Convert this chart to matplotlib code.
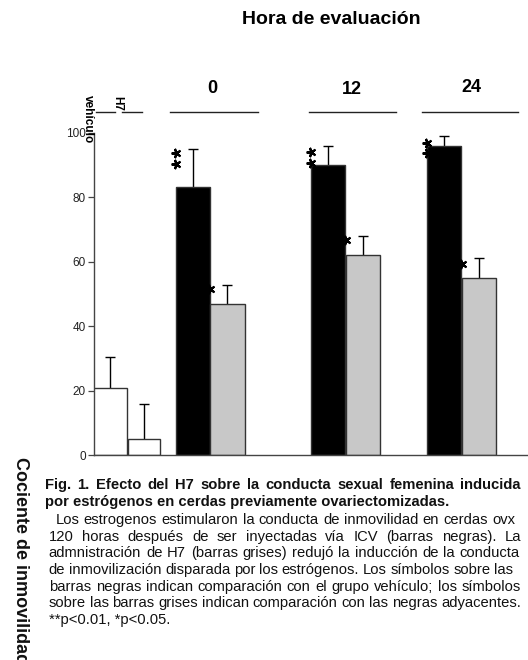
import matplotlib
matplotlib.use("Agg")
import matplotlib.pyplot as plt
from matplotlib.lines import Line2D
import numpy as np

plt.rcParams['font.family'] = ['Liberation Sans', 'DejaVu Sans']

# ---------------- data ----------------
bar_names = ['vehículo', 'H7', '0 E', '0 H7', '12 E', '12 H7', '24 E', '24 H7']
bar_pos = [0.49, 1.47, 2.88, 3.88, 6.80, 7.81, 10.16, 11.17]
bar_width = [0.99, 0.93, 1.0, 1.0, 1.0, 1.0, 1.0, 1.0]
values = [20.8, 4.9, 83.1, 47.0, 90.0, 61.9, 96.0, 55.0]
errors = [9.7, 10.8, 11.7, 5.9, 6.0, 6.0, 2.9, 6.0]
bar_colors = ['white', 'white', 'black', '#c8c8c8', 'black', '#c8c8c8', 'black', '#c8c8c8']
yticks = [0, 20, 40, 60, 80, 100]

# significance marks: (bar index, y of marks)
star_bars = [2, 4, 6, 3, 5, 7]
star_y = [[93.8, 90.4], [94.1, 90.7], [96.9, 93.8], [51.4], [66.6], [59.4]]

hours = ['0', '12', '24']
title = 'Hora de evaluación'
ylabel = 'Cociente de inmovilidad'

caption_bold = ["Fig. 1. Efecto del H7 sobre la conducta sexual femenina inducida",
                "por estrógenos en cerdas previamente ovariectomizadas."]
caption_body = ["Los estrogenos estimularon la conducta de inmovilidad en cerdas  ovx",
                "120 horas después de ser inyectadas  vía ICV (barras negras).  La",
                "admnistración  de H7  (barras grises) redujó la inducción de la conducta",
                "de inmovilización disparada por los estrógenos. Los símbolos sobre las",
                "barras negras indican comparación con el grupo vehículo;  los  símbolos",
                "sobre las barras grises indican comparación con las negras adyacentes.",
                "**p<0.01, *p<0.05."]

W, H = 528, 660
fig = plt.figure(figsize=(W / 100, H / 100), dpi=100)

def fx(x):
    return x / W

def fy(y):
    return 1 - y / H

ax_left, ax_right, ax_top, ax_bot = 93.5, 528, 132.7, 455
ax = fig.add_axes([fx(ax_left), fy(ax_bot), (ax_right - ax_left) / W, (ax_bot - ax_top) / H])

ax.bar(bar_pos, values, width=bar_width, color=bar_colors, edgecolor='#333333',
       linewidth=1.0, zorder=2)
eb = ax.errorbar(bar_pos, values, yerr=[np.zeros(len(values)), errors], fmt='none',
                 ecolor='black', elinewidth=1.0, capsize=3.5, capthick=1.0, zorder=1)
eb[1][0].set_visible(False)

for bi, ys in zip(star_bars, star_y):
    xe = bar_pos[bi] - bar_width[bi] / 2
    for yv in ys:
        ax.plot([xe], [yv], marker=(5, 2, 90), ms=7, mew=1.5, color='black',
                linestyle='none', zorder=3, clip_on=False)

ax.set_xlim(0, (ax_right - ax_left) / 34.5)
ax.set_ylim(0, 100)
ax.set_yticks(yticks)
ax.set_xticks([])
for s in ['top', 'right']:
    ax.spines[s].set_visible(False)
for s in ['left', 'bottom']:
    ax.spines[s].set_color('#444444')
    ax.spines[s].set_linewidth(1.0)
ax.tick_params(axis='y', length=4, width=0.9, color='#444444', labelsize=8.5,
               labelcolor='#222222', pad=1.5)

# ---------------- header ----------------
fig.text(fx(331), fy(20), title, ha='center', va='center', fontsize=14, fontweight='bold')

hour_x = [212.7, 351.7, 471]
hour_y = [88.3, 89, 87.3]
for h, x, y in zip(hours, hour_x, hour_y):
    fig.text(fx(x), fy(y), h, ha='center', va='center', fontsize=13, fontweight='bold')

seg = [(96, 115), (121.7, 142), (170, 257.7), (309, 396), (421.7, 518)]
for a, b in seg:
    fig.add_artist(Line2D([fx(a), fx(b)], [fy(112), fy(112)], color='#222222', lw=1.0))

fig.text(fx(88.3), fy(95), 'vehículo', rotation=-90, ha='center', va='top',
         fontsize=8.5, fontweight='bold')
fig.text(fx(117.7), fy(96.5), 'H7', rotation=-90, ha='center', va='top',
         fontsize=8.5, fontweight='bold')

fig.text(fx(20), fy(457), ylabel, rotation=-90, ha='center', va='top',
         fontsize=13, fontweight='bold', color='#111111')

# ---------------- caption (justified) ----------------
renderer = fig.canvas.get_renderer()

def place_line(text, x0, x1, y, weight, size, justify):
    if not justify:
        fig.text(fx(x0), fy(y), text, ha='left', va='center', fontsize=size,
                 fontweight=weight, color='#111111')
        return
    words = text.split()
    arts = [fig.text(0, 0, w, ha='left', va='center', fontsize=size,
                     fontweight=weight, color='#111111') for w in words]
    widths = [a.get_window_extent(renderer).width for a in arts]
    gap = (x1 - x0 - sum(widths)) / (len(words) - 1)
    x = x0
    for a, w in zip(arts, widths):
        a.set_position((fx(x), fy(y)))
        x += w + gap

cap_size = 10.6
place_line(caption_bold[0], 44.8, 521, 485, 'bold', cap_size, True)
place_line(caption_bold[1], 44.8, 521, 501.7, 'bold', cap_size, False)
body_y = [520, 536.7, 553.3, 570, 586.7, 603.3, 620]
body_x0 = [55.6, 48.8, 48.8, 48.8, 48.8, 48.8, 48.8]
body_x1 = [515, 521, 520, 513, 521, 521, None]
for t, y, x0, x1 in zip(caption_body, body_y, body_x0, body_x1):
    place_line(t, x0, x1, y, 'normal', cap_size, x1 is not None)

fig.savefig('out.png', dpi=100)
